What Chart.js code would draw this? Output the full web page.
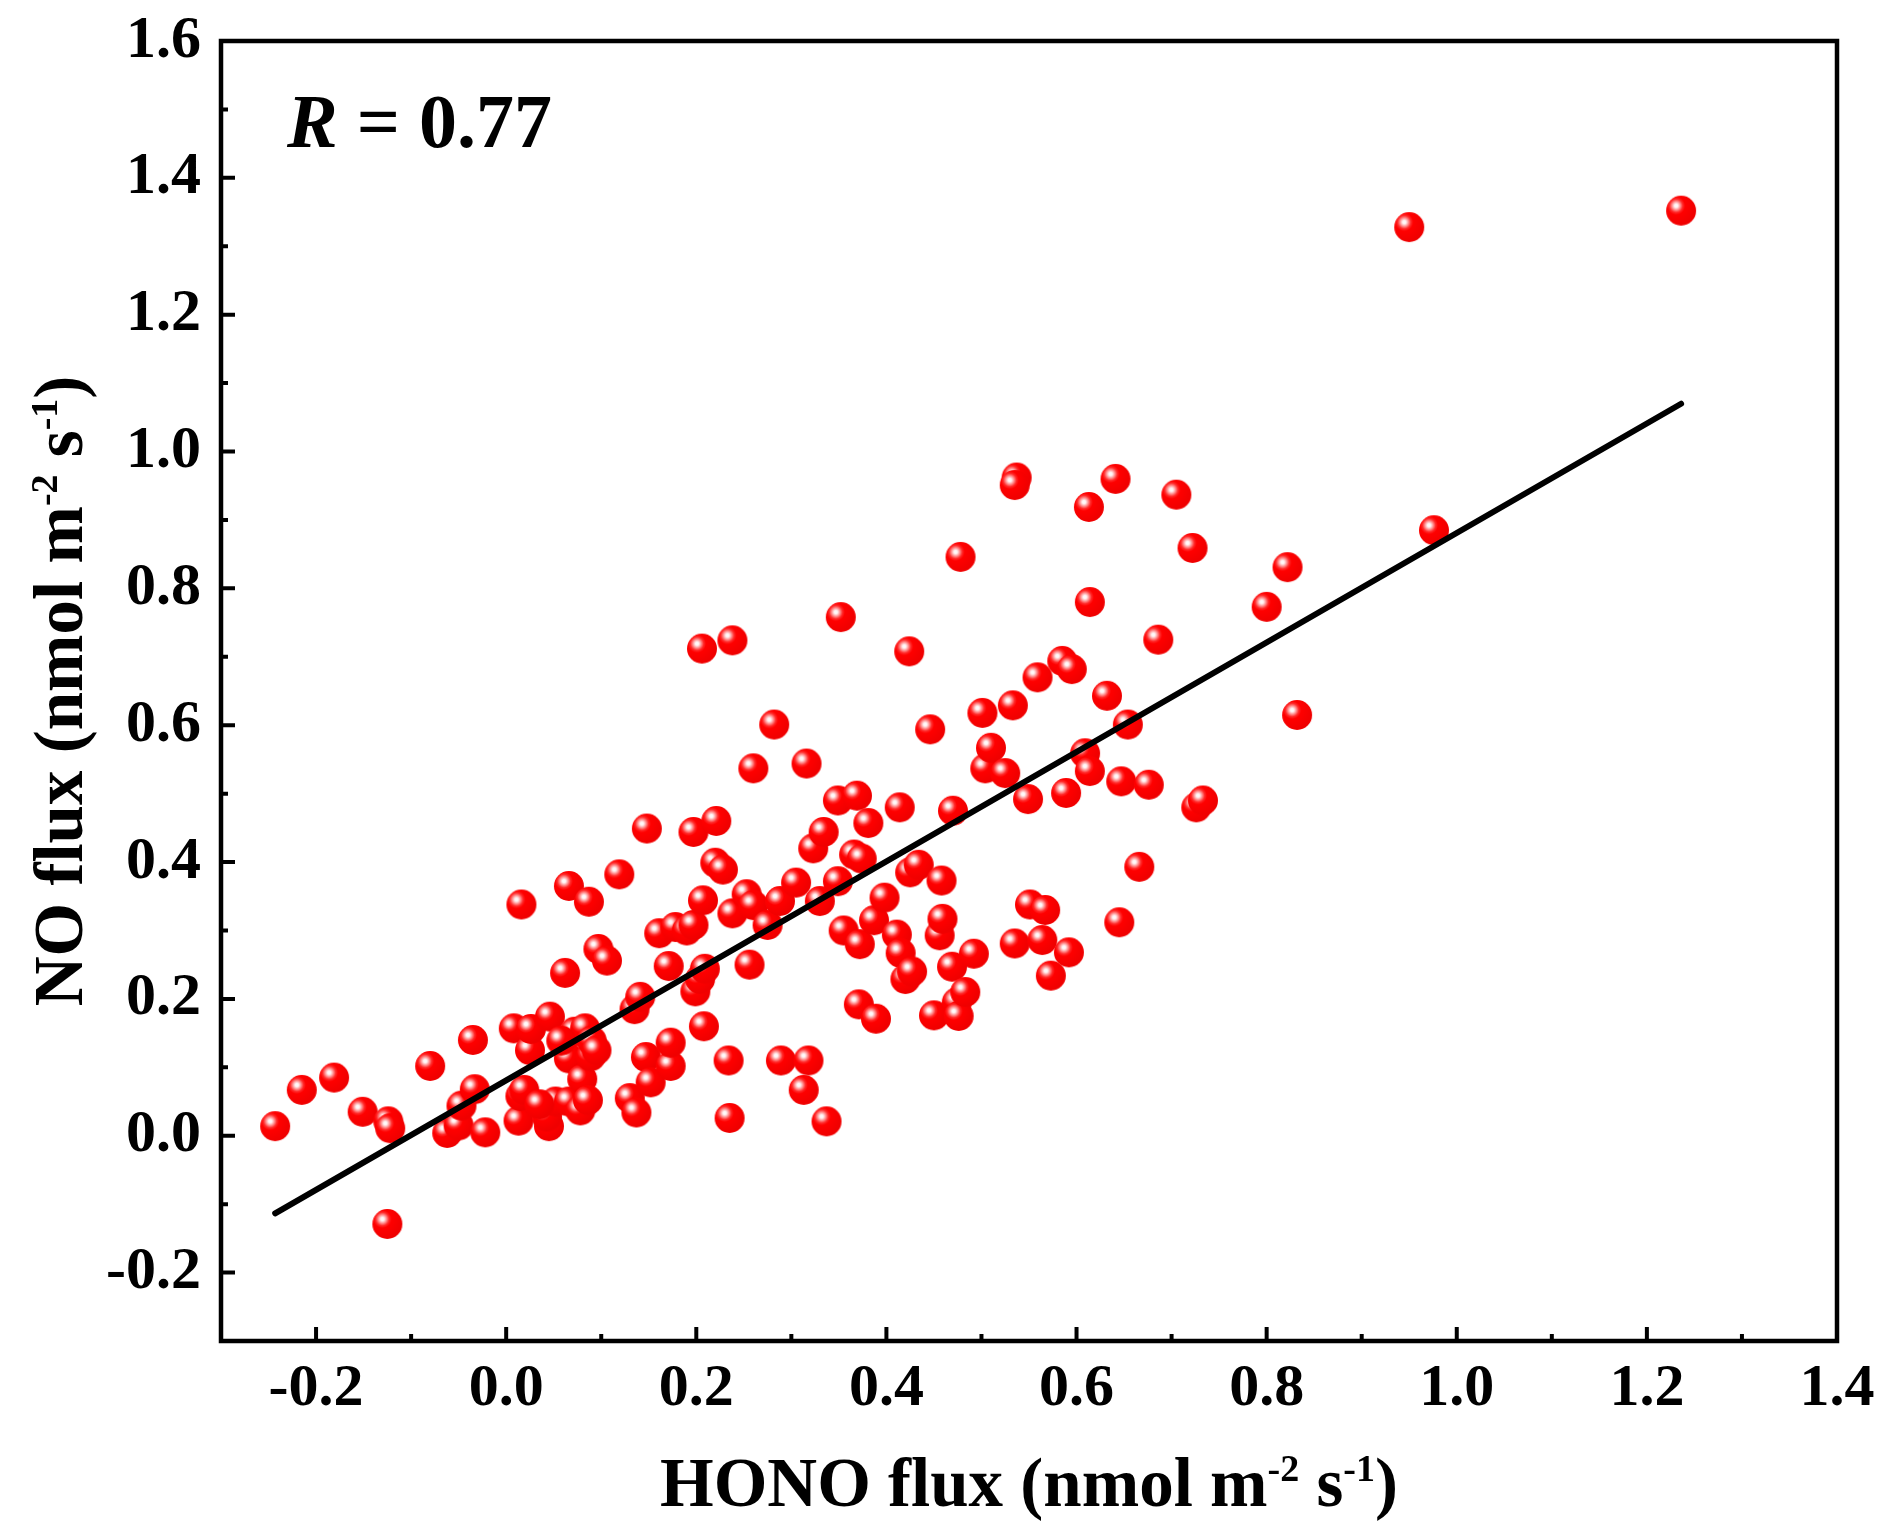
<!DOCTYPE html>
<html>
<head>
<meta charset="utf-8">
<title>NO flux vs HONO flux</title>
<script src="https://cdn.jsdelivr.net/npm/chart.js@4.4.1/dist/chart.umd.min.js"></script>
<style>
  html, body { margin: 0; padding: 0; background: #fff; }
  canvas { display: block; }
</style>
</head>
<body>
<canvas id="chart" width="1892" height="1535"></canvas>
<script>
// HONO flux (x) and NO flux (y), nmol m-2 s-1
const honoFlux = [
  -0.243, -0.215, -0.181, -0.151, -0.124, -0.122, -0.125, -0.080, -0.062, -0.050,
  -0.047, -0.035, -0.033, -0.022, 0.008, 0.013, 0.015, 0.019, 0.016, 0.025,
  0.026, 0.046, 0.045, 0.043, 0.052, 0.062, 0.066, 0.066, 0.066, 0.072,
  0.078, 0.080, 0.083, 0.086, 0.087, 0.089, 0.090, 0.097, 0.106, 0.119,
  0.130, 0.135, 0.137, 0.141, 0.148, 0.147, 0.152, 0.161, 0.171, 0.173,
  0.173, 0.178, 0.190, 0.197, 0.197, 0.199, 0.206, 0.207, 0.208, 0.204,
  0.209, 0.221, 0.220, 0.228, 0.234, 0.235, 0.238, 0.238, 0.253, 0.260,
  0.256, 0.260, 0.275, 0.282, 0.288, 0.289, 0.305, 0.313, 0.316, 0.318,
  0.323, 0.330, 0.334, 0.337, 0.349, 0.349, 0.352, 0.355, 0.366, 0.369,
  0.371, 0.372, 0.374, 0.381, 0.389, 0.387, 0.398, 0.414, 0.411, 0.415,
  0.420, 0.424, 0.427, 0.425, 0.434, 0.446, 0.450, 0.456, 0.459, 0.458,
  0.469, 0.470, 0.474, 0.476, 0.483, 0.478, 0.492, 0.501, 0.504, 0.510,
  0.525, 0.533, 0.537, 0.535, 0.535, 0.549, 0.551, 0.559, 0.567, 0.564,
  0.573, 0.585, 0.595, 0.589, 0.592, 0.609, 0.613, 0.614, 0.614, 0.632,
  0.641, 0.645, 0.647, 0.654, 0.666, 0.676, 0.686, 0.705, 0.722, 0.726,
  0.733, 0.800, 0.822, 0.832, 0.950, 0.976, 1.236, 0.035, 0.058, 0.095
];
const noFlux = [
  0.014, 0.067, 0.085, 0.035, 0.021, 0.011, -0.129, 0.102, 0.004, 0.015,
  0.044, 0.140, 0.068, 0.005, 0.157, 0.022, 0.058, 0.067, 0.338, 0.125,
  0.156, 0.174, 0.014, 0.028, 0.050, 0.238, 0.365, 0.050, 0.113, 0.152,
  0.037, 0.083, 0.157, 0.052, 0.342, 0.116, 0.139, 0.273, 0.256, 0.382,
  0.055, 0.185, 0.034, 0.203, 0.449, 0.115, 0.078, 0.296, 0.248, 0.102,
  0.136, 0.305, 0.300, 0.444, 0.308, 0.211, 0.712, 0.344, 0.160, 0.229,
  0.244, 0.460, 0.399, 0.389, 0.110, 0.026, 0.724, 0.325, 0.353, 0.337,
  0.250, 0.537, 0.308, 0.601, 0.343, 0.110, 0.370, 0.067, 0.544, 0.110,
  0.420, 0.343, 0.444, 0.021, 0.372, 0.490, 0.758, 0.300, 0.411, 0.497,
  0.192, 0.280, 0.405, 0.457, 0.171, 0.315, 0.348, 0.480, 0.294, 0.267,
  0.229, 0.708, 0.240, 0.385, 0.396, 0.594, 0.176, 0.293, 0.317, 0.373,
  0.247, 0.475, 0.195, 0.175, 0.210, 0.846, 0.266, 0.618, 0.537, 0.567,
  0.530, 0.629, 0.962, 0.951, 0.281, 0.492, 0.338, 0.670, 0.330, 0.286,
  0.234, 0.694, 0.682, 0.501, 0.268, 0.559, 0.919, 0.780, 0.533, 0.643,
  0.960, 0.312, 0.518, 0.601, 0.393, 0.513, 0.725, 0.937, 0.859, 0.480,
  0.490, 0.773, 0.831, 0.615, 1.328, 0.885, 1.352, 0.046, 0.139, 0.125
];

// linear fit shown in the figure
const fitSlope = 0.80;
const fitIntercept = 0.081;
const rLabel = '0.77';

const xTicks = [-0.2, 0.0, 0.2, 0.4, 0.6, 0.8, 1.0, 1.2, 1.4];
const yTicks = [-0.2, 0.0, 0.2, 0.4, 0.6, 0.8, 1.0, 1.2, 1.4, 1.6];

const serif = '"Liberation Serif", "Times New Roman", serif';

// shaded red ball used as the marker
function makeBall(r) {
  const size = r * 2 + 4;
  const c = document.createElement('canvas');
  c.width = size; c.height = size;
  const g = c.getContext('2d');
  const cx = size / 2, cy = size / 2;
  const hx = cx - r * 0.33, hy = cy - r * 0.33;
  const grad = g.createRadialGradient(hx, hy, 0, hx, hy, r * 1.3);
  grad.addColorStop(0, '#ffffff');
  grad.addColorStop(0.09, '#fff2f2');
  grad.addColorStop(0.2, '#ff9c9c');
  grad.addColorStop(0.34, '#ff2a2a');
  grad.addColorStop(0.46, '#ff0000');
  grad.addColorStop(1, '#f00000');
  g.fillStyle = grad;
  g.beginPath();
  g.arc(cx, cy, r, 0, Math.PI * 2);
  g.fill();
  return c;
}
const ball = makeBall(15);

const points = honoFlux.map((x, i) => ({ x: x, y: noFlux[i] }));
const xMin = Math.min(...honoFlux);
const xMax = Math.max(...honoFlux);
const fitLine = [
  { x: xMin, y: fitSlope * xMin + fitIntercept },
  { x: xMax, y: fitSlope * xMax + fitIntercept }
];

// text with superscript pieces; parts = [[text, isSup], ...], centred on x
function richWidth(ctx, parts, size, supSize) {
  let w = 0;
  parts.forEach(p => {
    ctx.font = 'bold ' + (p[1] ? supSize : size) + 'px ' + serif;
    w += ctx.measureText(p[0]).width;
  });
  return w;
}
function drawRich(ctx, parts, x, y, size) {
  const supSize = Math.round(size * 0.55);
  const rise = size * 0.36;
  let cx = x - richWidth(ctx, parts, size, supSize) / 2;
  parts.forEach(p => {
    ctx.font = 'bold ' + (p[1] ? supSize : size) + 'px ' + serif;
    ctx.fillText(p[0], cx, p[1] ? y - rise : y);
    cx += ctx.measureText(p[0]).width;
  });
}

const decorations = {
  id: 'decorations',
  afterDraw(chart) {
    const ctx = chart.ctx;
    const a = chart.chartArea;
    const xs = chart.scales.x, ys = chart.scales.y;
    ctx.save();
    ctx.strokeStyle = '#000';
    ctx.fillStyle = '#000';

    // inward ticks, major and minor
    ctx.lineWidth = 4;
    ctx.beginPath();
    xTicks.forEach(v => {
      const px = xs.getPixelForValue(v);
      ctx.moveTo(px, a.bottom); ctx.lineTo(px, a.bottom - 14);
      const m = xs.getPixelForValue(v - 0.1);
      if (m > a.left + 2) { ctx.moveTo(m, a.bottom); ctx.lineTo(m, a.bottom - 7); }
    });
    yTicks.forEach(v => {
      const py = ys.getPixelForValue(v);
      ctx.moveTo(a.left, py); ctx.lineTo(a.left + 14, py);
      const m = ys.getPixelForValue(v - 0.1);
      if (m < a.bottom - 2) { ctx.moveTo(a.left, m); ctx.lineTo(a.left + 7, m); }
    });
    ctx.stroke();

    // frame
    ctx.lineWidth = 4.5;
    ctx.strokeRect(a.left, a.top, a.right - a.left, a.bottom - a.top);

    // axis titles
    ctx.textBaseline = 'alphabetic';
    ctx.textAlign = 'left';
    const parts = (lead) => [[lead + ' flux (nmol m', false], ['-2', true], [' s', false], ['-1', true], [')', false]];
    drawRich(ctx, parts('HONO'), (a.left + a.right) / 2, 1506, 69);
    ctx.save();
    ctx.translate(82, (a.top + a.bottom) / 2);
    ctx.rotate(-Math.PI / 2);
    drawRich(ctx, parts('NO'), 0, 0, 69);
    ctx.restore();

    // R value
    ctx.font = 'italic bold 76px ' + serif;
    ctx.fillText('R', 287, 147);
    const rw = ctx.measureText('R').width;
    ctx.font = 'bold 76px ' + serif;
    ctx.fillText(' = ' + rLabel, 287 + rw, 147);
    ctx.restore();
  }
};

const tickFont = { family: serif, size: 60, weight: 'bold' };

new Chart(document.getElementById('chart'), {
  data: {
    datasets: [
      {
        type: 'line',
        data: fitLine,
        borderColor: '#000',
        borderWidth: 6,
        borderCapStyle: 'round',
        pointRadius: 0,
        fill: false,
        order: 0
      },
      {
        type: 'scatter',
        data: points,
        pointStyle: ball,
        pointRadius: 15,
        order: 1
      }
    ]
  },
  options: {
    responsive: false,
    devicePixelRatio: 1,
    animation: false,
    layout: { padding: { top: 41, right: 55, left: 0, bottom: 0 } },
    plugins: { legend: { display: false }, tooltip: { enabled: false } },
    scales: {
      x: {
        type: 'linear',
        min: -0.3,
        max: 1.4,
        afterBuildTicks: s => { s.ticks = xTicks.map(v => ({ value: v })); },
        afterFit: s => { s.height = 194; s.paddingLeft = 0; s.paddingRight = 0; },
        grid: { display: false, drawTicks: false, tickLength: 0 },
        border: { display: false },
        ticks: {
          font: tickFont, color: '#000', padding: 12,
          autoSkip: false, maxRotation: 0,
          callback: v => v.toFixed(1)
        }
      },
      y: {
        type: 'linear',
        min: -0.3,
        max: 1.6,
        afterBuildTicks: s => { s.ticks = yTicks.map(v => ({ value: v })); },
        afterFit: s => { s.width = 221; s.paddingTop = 0; s.paddingBottom = 0; },
        grid: { display: false, drawTicks: false, tickLength: 0 },
        border: { display: false },
        ticks: {
          font: tickFont, color: '#000', padding: 20,
          autoSkip: false,
          callback: v => v.toFixed(1)
        }
      }
    }
  },
  plugins: [decorations]
});
</script>
</body>
</html>
